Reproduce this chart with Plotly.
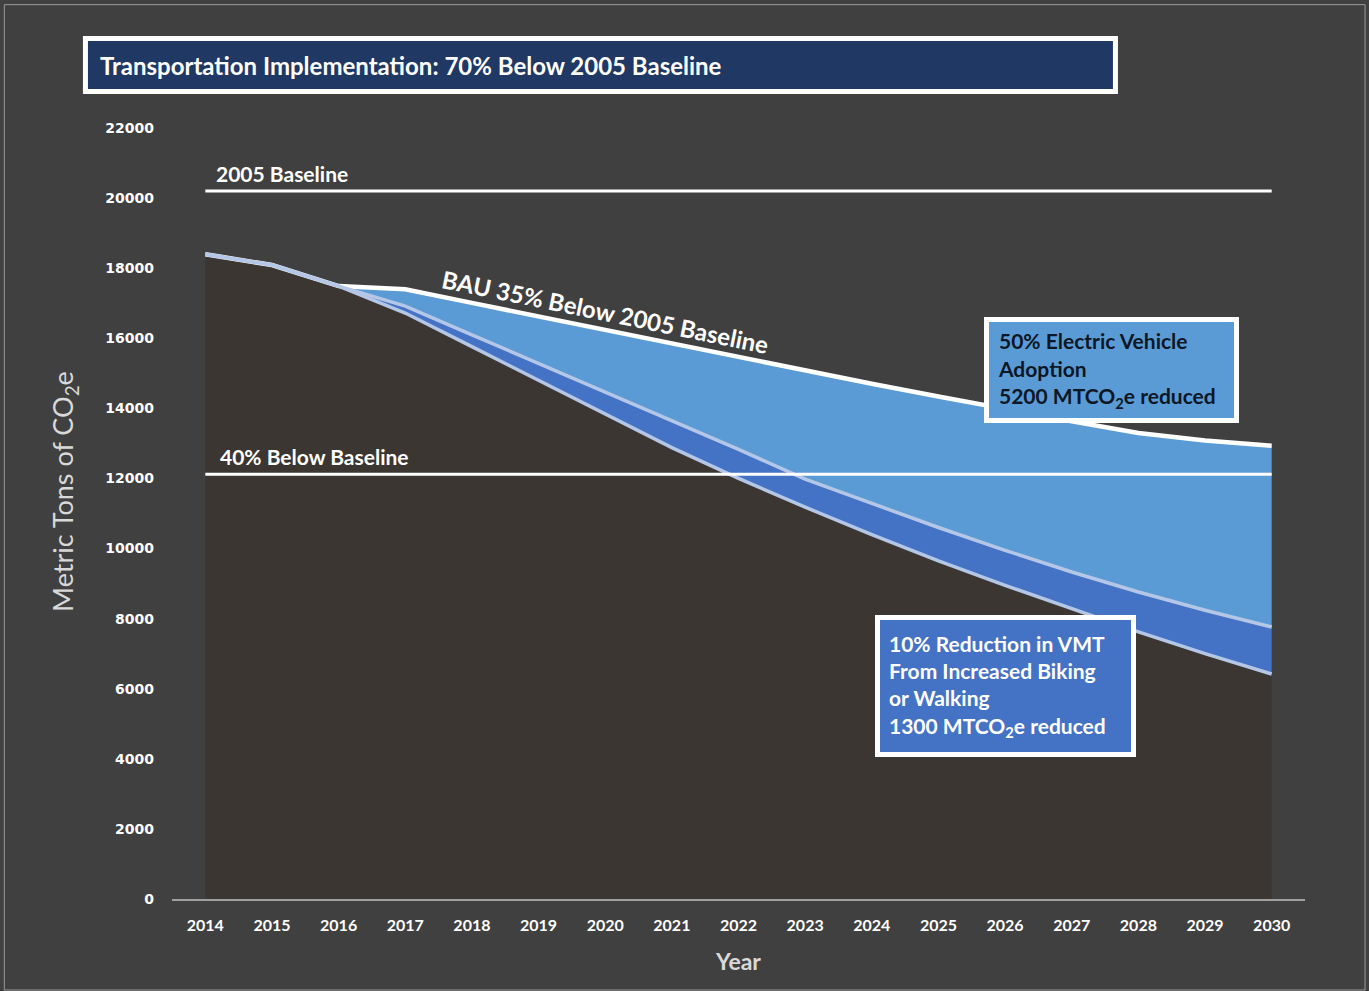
import plotly.graph_objects as go

years = list(range(2014, 2031))
bau = [18400, 18090, 17490, 17400, 17010, 16620, 16240, 15850, 15460, 15070,
       14700, 14340, 13980, 13630, 13300, 13080, 12930]
ev = [18400, 18090, 17490, 16920, 16100, 15280, 14470, 13650, 12830, 11980,
      11280, 10600, 9950, 9330, 8760, 8240, 7760]
vmt = [18400, 18090, 17490, 16720, 15760, 14800, 13850, 12880, 12000, 11180,
       10400, 9650, 8950, 8280, 7620, 7000, 6420]
baseline_2005 = 20200
below_40 = 12120
y_ticks = list(range(0, 22001, 2000))

FONT = "Lato"
BG = "#404040"
DARK = "#3b3632"
EV_COL = "#5b9bd5"
VMT_COL = "#4472c4"
LINE_BLUE = "#b4c7e7"

fig = go.Figure()

# fills
fig.add_trace(go.Scatter(x=years, y=vmt, mode="lines", line=dict(width=0, color=DARK),
                         fill="tozeroy", fillcolor=DARK, hoverinfo="skip", showlegend=False))
fig.add_trace(go.Scatter(x=years, y=ev, mode="lines", line=dict(width=0, color=VMT_COL),
                         fill="tonexty", fillcolor=VMT_COL, hoverinfo="skip", showlegend=False))
fig.add_trace(go.Scatter(x=years, y=bau, mode="lines", line=dict(width=0, color=EV_COL),
                         fill="tonexty", fillcolor=EV_COL, hoverinfo="skip", showlegend=False))

# lines
fig.add_trace(go.Scatter(x=years, y=bau, mode="lines", line=dict(width=4.5, color="white"),
                         showlegend=False))
fig.add_trace(go.Scatter(x=years, y=ev, mode="lines", line=dict(width=3.5, color=LINE_BLUE),
                         showlegend=False))
fig.add_trace(go.Scatter(x=years, y=vmt, mode="lines", line=dict(width=3.5, color=LINE_BLUE),
                         showlegend=False))
fig.add_trace(go.Scatter(x=[years[0], years[-1]], y=[baseline_2005, baseline_2005], mode="lines",
                         line=dict(width=3, color="white"), showlegend=False))
fig.add_trace(go.Scatter(x=[years[0], years[-1]], y=[below_40, below_40], mode="lines",
                         line=dict(width=3, color="white"), showlegend=False))

annotations = [
    dict(text="Transportation Implementation: 70% Below 2005 Baseline",
         xref="paper", yref="paper", x=-0.0653, y=1.0817, xanchor="left", yanchor="middle",
         showarrow=False,
         font=dict(family=FONT, size=24, color="white", weight="bold")),
    dict(text="2005 Baseline", x=2014.13, y=baseline_2005, xanchor="left", yanchor="bottom",
         yshift=3, showarrow=False,
         font=dict(family=FONT, size=21, color="white", weight="bold")),
    dict(text="40% Below Baseline", x=2014.19, y=below_40, xanchor="left", yanchor="bottom",
         yshift=3, showarrow=False,
         font=dict(family=FONT, size=21, color="white", weight="bold")),
    dict(text="BAU 35% Below 2005 Baseline", x=2020.0, y=16750, xanchor="center", yanchor="middle",
         textangle=11.5, showarrow=False,
         font=dict(family=FONT, size=24, color="white", weight="bold")),
    dict(text="50% Electric Vehicle<br>Adoption<br>5200 MTCO<sub>2</sub>e reduced",
         x=2027.59, y=15093, xanchor="center", yanchor="middle", showarrow=False,
         align="left", width=227, height=78,
         bgcolor=EV_COL, bordercolor="white", borderwidth=5, borderpad=9,
         font=dict(family=FONT, size=21, color="#0d1726", weight="bold")),
    dict(text="10% Reduction in VMT<br>From Increased Biking<br>or Walking<br>1300 MTCO<sub>2</sub>e reduced",
         x=2026.0, y=6077, xanchor="center", yanchor="middle", showarrow=False,
         align="left", width=233, height=114,
         bgcolor=VMT_COL, bordercolor="white", borderwidth=5, borderpad=9,
         font=dict(family=FONT, size=21, color="white", weight="bold")),
    dict(text="Metric Tons of CO<sub>2</sub>e", xref="paper", yref="paper",
         x=-0.0944, y=0.528, xanchor="center", yanchor="middle", textangle=-90,
         showarrow=False, font=dict(family=FONT, size=27, color="#d9d9d9")),
]

fig.update_layout(
    width=1369, height=991,
    margin=dict(l=172, r=64, t=128, b=92),
    paper_bgcolor=BG, plot_bgcolor=BG,
    annotations=annotations,
    xaxis=dict(range=[2013.5, 2030.5], tickvals=years, ticktext=[str(y) for y in years],
               showgrid=False, zeroline=False, showline=True, linecolor="#a0a0a0", linewidth=2,
               ticks="", ticklabelstandoff=11,
               tickfont=dict(family=FONT, size=16, color="white", weight="bold"),
               title=dict(text="Year", standoff=21,
                          font=dict(family=FONT, size=23, color="#d9d9d9", weight="bold"))),
    yaxis=dict(range=[0, 22000], tickvals=y_ticks, ticktext=[str(v) for v in y_ticks],
               showgrid=False, zeroline=False, showline=False, ticks="", ticklabelstandoff=17,
               tickfont=dict(family="DejaVu Sans", size=14, color="white", weight="bold")),
    shapes=[
        dict(type="rect", xref="paper", yref="paper", x0=-0.148, x1=1.053, y0=-0.118, y1=1.16,
             line=dict(color="#9a9a9a", width=1), layer="below"),
        dict(type="rect", xref="paper", yref="paper", x0=-0.0764, x1=0.8327, y0=1.0473, y1=1.1161,
             fillcolor="#1f3864", line=dict(color="white", width=5), layer="above"),
    ],
)

fig.write_html("out.html")
